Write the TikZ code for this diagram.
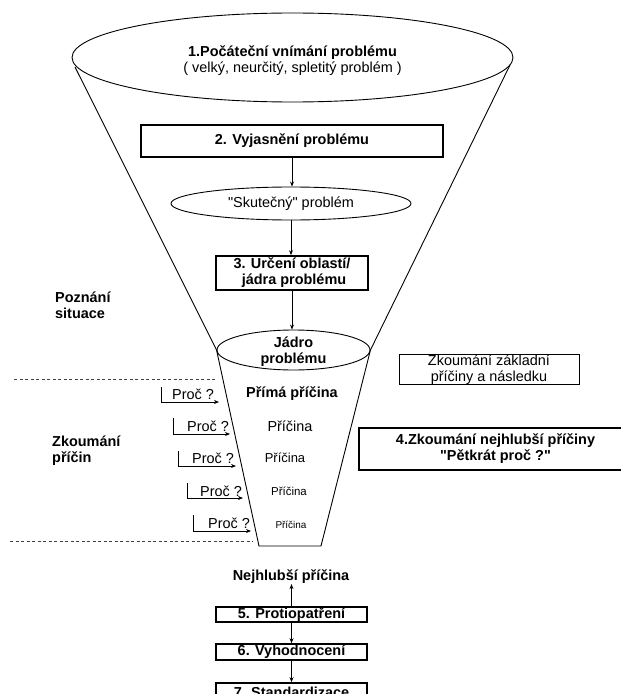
\documentclass[tikz,border=0pt]{standalone}
\usepackage{fontspec}
\setmainfont{Liberation Sans}
\newfontfamily\qfont{Liberation Sans}
\usetikzlibrary{shapes.geometric,arrows.meta}
\newcommand{\sq}{{\qfont\symbol{34}}}
\begin{document}
\begin{tikzpicture}[x=1bp,y=-1bp,
  every node/.style={font=\fontsize{14.5}{16}\selectfont, inner sep=0pt, align=center},
  bx/.style={draw, line width=1.6bp, rectangle, inner sep=0pt, font=\fontsize{14.5}{16}\selectfont\bfseries},
  thinbox/.style={draw, line width=0.9bp, rectangle, inner sep=0pt},
  ell/.style={draw, ellipse, line width=0.9bp, inner sep=0pt},
  arr/.style={line width=0.8bp, -{Stealth[length=5bp,width=4bp]}},
  fun/.style={line width=0.9bp},
  dsh/.style={line width=0.9bp, dash pattern=on 3bp off 2.5bp, black!75},
  lbl/.style={font=\fontsize{14.5}{16}\selectfont\bfseries},
]
\clip (0,0) rectangle (621,694);
% funnel
\node[ell, minimum width=441bp, minimum height=89bp] (e1) at (292.5,57.5) {};
\node (t1) at (292.5,61) {\textbf{1.Počáteční vnímání problému}\\( velký, neurčitý, spletitý problém )};
\node[ell, minimum width=153bp, minimum height=40bp] (e3) at (293.5,350) {};
\node[lbl] (t3) at (293.5,352) {Jádro\\problému};
\coordinate (fl1) at (75,67);
\coordinate (fr1) at (510,65);
\coordinate (bl) at (259,546);
\coordinate (br) at (321,546);
\draw[fun] (fl1) -- (e3.west);
\draw[fun] (fr1) -- (e3.east);
\draw[fun] (e3.west) -- (bl) -- (br) -- (e3.east);

% upper chain
\node[bx, minimum width=302bp, minimum height=32bp] (b2) at (292,141) {2. Vyjasnění problému};
\node[ell, minimum width=240bp, minimum height=33bp] (e2) at (291,203.5) {\sq Skutečný\sq{} problém};
\node[bx, minimum width=152bp, minimum height=34bp] (b3) at (292,273) {3. Určení oblastí/\\\ jádra problému};
\draw[arr] (b2.south) -- (b2.south |- e2.north);
\draw[arr] (e2.south) -- (e2.south |- b3.north);
\draw[arr] (b3.south) -- (b3.south |- e3.north);

% side labels
\node[lbl, align=left, anchor=west] (pozn) at (55,305) {Poznání\\situace};
\node[lbl, align=left, anchor=west] (zkp) at (52,451) {Zkoumání\\příčin};
\node[thinbox, minimum width=180bp, minimum height=29bp] (zz) at (489,369.5) {Zkoumání základní\\příčiny a následku};
\node[bx, minimum width=273bp, minimum height=42bp] (b4) at (495.5,449) {4.Zkoumání nejhlubší příčiny\\\sq Pětkrát proč ?\sq};

% dashed separators
\coordinate (d1a) at (14,379); \coordinate (d1b) at (217,379);
\coordinate (d2a) at (10,541); \coordinate (d2b) at (253,541);
\draw[dsh] (d1a) -- (d1b);
\draw[dsh] (d2a) -- (d2b);

% causes
\node[lbl] (c1) at (292,394) {Přímá příčina};
\node (c2) at (290,426) {Příčina};
\node[font=\fontsize{13}{15}\selectfont] (c3) at (285,458) {Příčina};
\node[font=\fontsize{11.5}{13}\selectfont] (c4) at (289,491) {Příčina};
\node[font=\fontsize{10}{12}\selectfont] (c5) at (291,525) {Příčina};

% why arrows
\coordinate (p1a) at (161,387); \coordinate (p1b) at (219,402);
\coordinate (p2a) at (173,418); \coordinate (p2b) at (230,434);
\coordinate (p3a) at (178,451); \coordinate (p3b) at (236,466);
\coordinate (p4a) at (187,483); \coordinate (p4b) at (243,498);
\coordinate (p5a) at (193,515); \coordinate (p5b) at (251,531);
\draw[arr] (p1a) |- (p1b);
\draw[arr] (p2a) |- (p2b);
\draw[arr] (p3a) |- (p3b);
\draw[arr] (p4a) |- (p4b);
\draw[arr] (p5a) |- (p5b);
\node (w1) at (193,394) {Proč ?};
\node (w2) at (208,426) {Proč ?};
\node (w3) at (213,458) {Proč ?};
\node (w4) at (221,491) {Proč ?};
\node (w5) at (229,523) {Proč ?};

% lower chain
\node[lbl] (nh) at (291,577) {Nejhlubší příčina};
\node[bx, minimum width=151bp, minimum height=15bp] (b5) at (291.5,614.5) {5. Protiopatření};
\node[bx, minimum width=151bp, minimum height=16bp] (b6) at (291.5,652) {6. Vyhodnocení};
\node[bx, minimum width=151bp, minimum height=18bp] (b7) at (291.5,692) {7. Standardizace};
\draw[arr] (b5.north) -- (b5.north |- nh.south);
\draw[arr] (b5.south) -- (b5.south |- b6.north);
\draw[arr] (b6.south) -- (b6.south |- b7.north);
\end{tikzpicture}
\end{document}
